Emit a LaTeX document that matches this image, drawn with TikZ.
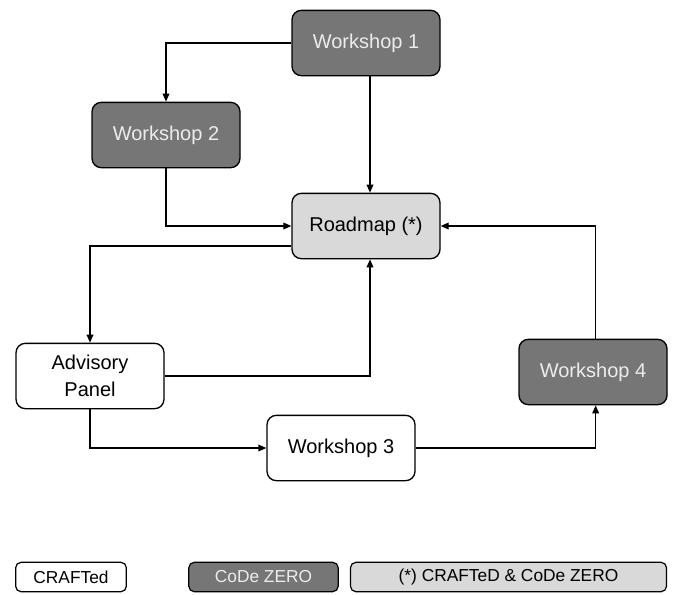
\documentclass[tikz,border=0pt]{standalone}
\usepackage{fontspec}
\setmainfont{Liberation Sans}
\usetikzlibrary{arrows.meta}
\definecolor{codegray}{RGB}{118,118,118}
\definecolor{bothgray}{RGB}{217,217,217}
\definecolor{textlight}{RGB}{236,236,236}
\tikzset{
  box/.style={draw,line width=1pt,rounded corners=7pt,minimum width=111pt,minimum height=49pt,align=center,font=\fontsize{15}{20}\selectfont},
  crafted/.style={box,fill=white},
  codezero/.style={box,fill=codegray,text=textlight},
  both/.style={box,fill=bothgray},
  key/.style={draw,line width=.9pt,rounded corners=4pt,minimum height=22pt,font=\fontsize{13}{15}\selectfont},
  link/.style={line width=1pt,-{Triangle[length=6pt,width=5pt]}}
}

\begin{document}
\begin{tikzpicture}[x=.75pt,y=-.75pt]
\useasboundingbox (0,0) rectangle (678,594);
\node[codezero] (ws1) at (366,43) {Workshop 1};
\node[codezero] (ws2) at (166,135) {Workshop 2};
\node[both] (road) at (366,226) {Roadmap (*)};
\node[crafted] (panel) at (90,376) {Advisory\\Panel};
\node[crafted] (ws3) at (341,448) {Workshop 3};
\node[codezero] (ws4) at (593,372) {Workshop 4};
\draw[link] (ws1.west) -| (ws2.north);
\draw[link] ([xshift=3pt]ws1.south) -- ([xshift=3pt]road.north);
\draw[link] (ws2.south) |- (road.west);
\draw[link] ([yshift=-15pt]road.west) -| (panel.north);
\draw[link] (panel.east) -| ([xshift=3pt]road.south);
\draw[link] (panel.south) |- (ws3.west);
\draw[link] (ws3.east) -| ([xshift=2pt]ws4.south);
\draw[link] ([xshift=2pt]ws4.north) |- (road.east);
\node[key,fill=white,minimum width=83pt] (keycrafted) at (71,577) {CRAFTed};
\node[key,fill=codegray,text=textlight,minimum width=112pt] (keycode) at (263.5,577) {CoDe ZERO};
\node[key,fill=bothgray,minimum width=237pt] (keyboth) at (508.5,577) {(*) CRAFTeD \& CoDe ZERO};
\end{tikzpicture}
\end{document}
